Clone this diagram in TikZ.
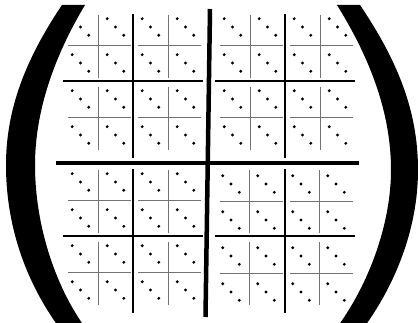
\documentclass[tikz,border=0pt]{standalone}
\begin{document}
\begin{tikzpicture}[x=1pt,y=-1pt,
  thickline/.style={line width=4.5pt,black},
  medline/.style={line width=2.6pt,black},
  thinline/.style={line width=0.9pt,black!55},
  dotmark/.style={fill=black}]
\useasboundingbox (0,0) rectangle (418,323);
\clip (0,0) rectangle (418,323);
\fill[white] (0,0) rectangle (418,323);
% quadrants
\foreach \qx/\qy/\dx/\dy in {133/81/0/0, 285/81/0/0, 133/236/0/0, 285/236/-1.5/2}{
  \draw[medline] (\qx-70,\qy) -- (\qx+70,\qy);
  \draw[medline] (\qx,\qy-67) -- (\qx,\qy+77);
  \foreach \sx/\sy in {-35/-36, 35/-36, -35/36, 35/36}{
    \draw[thinline] (\qx+\sx-30,\qy+\sy+\dy*0.5) -- (\qx+\sx+33,\qy+\sy+\dy*0.5);
    \draw[thinline] (\qx+\sx+\dx*0.5,\qy+\sy-30) -- (\qx+\sx+\dx*0.5,\qy+\sy+33);
    \foreach \cx/\cy in {-17.5/-18, 17.5/-18, -17.5/18, 17.5/18}{
      \foreach \k in {-1,0,1}{
        \fill[dotmark] (\qx+\sx+\cx+\k*8.3+\dx,\qy+\sy+\cy+\k*8.3+\dy) circle (1.6);
      }
    }
  }
}
% big cross
\draw[thickline] (56,163) -- (359,163);
\draw[thickline] (210,9) -- (205.5,317);
% left parenthesis
\fill[black] (62,5) .. controls (25,60) and (6,110) .. (6,165)
  .. controls (6,225) and (25,280) .. (58,326)
  -- (84,326) .. controls (55,285) and (35,225) .. (35,165)
  .. controls (35,110) and (55,55) .. (85,5) -- cycle;
% right parenthesis
\fill[black] (360,5) .. controls (397,60) and (418,110) .. (418,170)
  .. controls (418,225) and (398,280) .. (365,326)
  -- (338,326) .. controls (368,285) and (391,225) .. (391,170)
  .. controls (391,110) and (368,55) .. (337,5) -- cycle;
\end{tikzpicture}
\end{document}
